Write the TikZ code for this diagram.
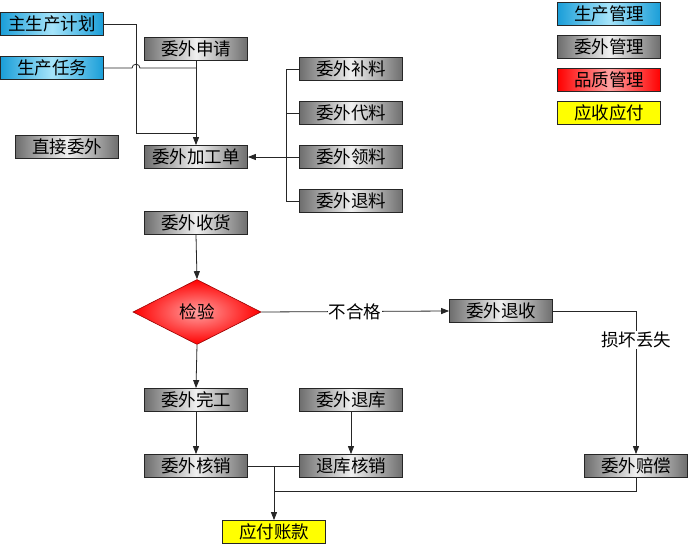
\documentclass[tikz,border=0pt]{standalone}
\usepackage{fontspec}
\setmainfont{Noto Sans CJK SC}
\usetikzlibrary{shapes.geometric,arrows.meta}
\definecolor{bluee}{HTML}{1A9ED8}
\definecolor{bluec}{HTML}{A6E4FA}
\definecolor{graye}{HTML}{6E6E6E}
\definecolor{grayc}{HTML}{F0F0F0}
\definecolor{rede}{HTML}{FF0000}
\definecolor{redc}{HTML}{FFA0A0}
\definecolor{yel}{HTML}{FFFF00}
\tikzset{
  box/.style={draw=black!85, line width=0.8pt, minimum width=103pt, minimum height=23pt,
    inner sep=0pt, text=black, font=\fontsize{17.5}{19}\selectfont},
  prodbox/.style={box, left color=bluee, right color=bluee, middle color=bluec},
  outbox/.style={box, left color=graye, right color=graye, middle color=grayc},
  qualbox/.style={box, left color=rede, right color=rede, middle color=redc},
  paybox/.style={box, fill=yel},
  conn/.style={draw=black!85, line width=0.8pt},
  arr/.style={conn, -{Triangle[length=8pt,width=6pt]}},
  lab/.style={fill=white, inner sep=1pt, text=black, font=\fontsize{17.5}{19}\selectfont},
}
\begin{document}
\begin{tikzpicture}[x=1pt,y=-1pt]
\useasboundingbox (0,0) rectangle (688,545);
% legend
\node[prodbox] (lg1) at (609,14) {生产管理};
\node[outbox] (lg2) at (609,47) {委外管理};
\node[qualbox] (lg3) at (609,80) {品质管理};
\node[paybox] (lg4) at (609,113) {应收应付};
% nodes
\node[prodbox] (plan) at (52,24) {主生产计划};
\node[prodbox] (task) at (52,68) {生产任务};
\node[outbox] (apply) at (196,49) {委外申请};
\node[outbox] (direct) at (67,147) {直接委外};
\node[outbox] (order) at (196,157) {委外加工单};
\node[outbox] (bu) at (351,69) {委外补料};
\node[outbox] (dai) at (351,113) {委外代料};
\node[outbox] (ling) at (351,157) {委外领料};
\node[outbox] (tui) at (351,201) {委外退料};
\node[outbox] (recv) at (196,223) {委外收货};
\node[diamond, aspect=2, draw=rede!60!black, line width=0.6pt, inner color=redc, outer color=rede,
  minimum width=128pt, minimum height=65pt, inner sep=0pt, text=black, font=\fontsize{17.5}{19}\selectfont] (check) at (197,312) {检验};
\node[outbox] (ret) at (501,311) {委外退收};
\node[outbox] (done) at (196,400) {委外完工};
\node[outbox] (tk) at (351,400) {委外退库};
\node[outbox] (hx) at (196,466) {委外核销};
\node[outbox] (tkhx) at (351,466) {退库核销};
\node[outbox] (comp) at (636,466) {委外赔偿};
\node[paybox] (pay) at (274,532) {应付账款};
% connectors
\coordinate (j1) at (196,133);
\draw[conn] (plan.east) -- (136,24) -- (136,133) -- (j1);
\draw[conn] (task.east) -- (132,68) .. controls (132,63) and (140,63) .. (140,68) -- (apply.south |- task.east);
\draw[arr] (apply.south) -- (order.north);
\draw[conn] (bu.west) -- ++(-13,0) |- (tui.west);
\draw[conn] (dai.west) -- ++(-13,0);
\draw[arr] (ling.west) -- (order.east);
\draw[arr] (recv.south) -- (check.north);
\draw[arr] (check.east) -- node[lab]{不合格} (ret.west);
\draw[arr] (ret.east) -| node[lab, pos=0.6]{损坏丢失} (comp.north);
\draw[arr] (check.south) -- (done.north);
\draw[arr] (done.south) -- (hx.north);
\draw[arr] (tk.south) -- (tkhx.north);
\draw[conn] (hx.east) -- (tkhx.west);
\draw[arr] (pay.north |- hx.east) -- (pay.north);
\coordinate (m) at (274,491);
\draw[conn] (comp.south) |- (m);
\end{tikzpicture}
\end{document}
